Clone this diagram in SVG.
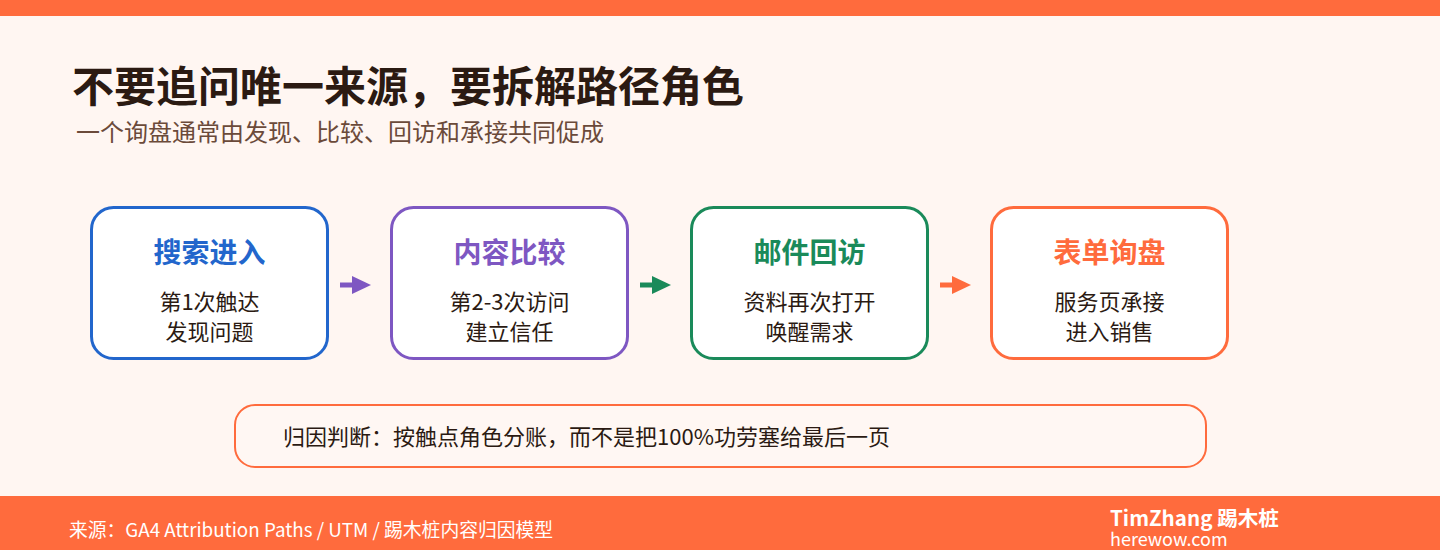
<svg xmlns="http://www.w3.org/2000/svg" width="1440" height="550" viewBox="0 0 1440 550">
<style>
text{font-family:"Noto Sans CJK SC","Noto Sans",sans-serif}
.box{fill:#FFFFFF;stroke-width:3}
.bt{font-size:28px;font-weight:700;text-anchor:middle}
.bl{font-size:22px;fill:#2B1A12;text-anchor:middle}
.arr{stroke-width:5}
</style>
<rect x="0" y="0" width="1440" height="550" fill="#FFF6F2"/>
<rect x="0" y="0" width="1440" height="16" fill="#FF6B3D"/>
<text x="72" y="102" font-size="42" font-weight="700" fill="#2B1A12">不要追问唯一来源，要拆解路径角色</text>
<text x="76" y="141" font-size="24" fill="#6B4A3A">一个询盘通常由发现、比较、回访和承接共同促成</text>
<g id="connectors">
<g id="c1"><line x1="340" y1="285" x2="356" y2="285" stroke="#7E57C2" class="arr"/><path d="M352,276 L371,285 L352,294 Z" fill="#7E57C2"/></g>
<g id="c2"><line x1="640" y1="285" x2="656" y2="285" stroke="#1A8A5A" class="arr"/><path d="M652,276 L671,285 L652,294 Z" fill="#1A8A5A"/></g>
<g id="c3"><line x1="940" y1="285" x2="956" y2="285" stroke="#FF6B3D" class="arr"/><path d="M952,276 L971,285 L952,294 Z" fill="#FF6B3D"/></g>
</g>
<g id="n1">
<rect x="91.5" y="207.5" width="236" height="151" rx="22" class="box" stroke="#2266CC"/>
<text x="209.5" y="263" class="bt" fill="#2266CC">搜索进入</text>
<text x="209.5" y="310" class="bl">第1次触达</text>
<text x="209.5" y="340" class="bl">发现问题</text>
</g>
<g id="n2">
<rect x="391.5" y="207.5" width="236" height="151" rx="22" class="box" stroke="#7E57C2"/>
<text x="509.5" y="263" class="bt" fill="#7E57C2">内容比较</text>
<text x="509.5" y="310" class="bl">第2-3次访问</text>
<text x="509.5" y="340" class="bl">建立信任</text>
</g>
<g id="n3">
<rect x="691.5" y="207.5" width="236" height="151" rx="22" class="box" stroke="#1A8A5A"/>
<text x="809.5" y="263" class="bt" fill="#1A8A5A">邮件回访</text>
<text x="809.5" y="310" class="bl">资料再次打开</text>
<text x="809.5" y="340" class="bl">唤醒需求</text>
</g>
<g id="n4">
<rect x="991.5" y="207.5" width="236" height="151" rx="22" class="box" stroke="#FF6B3D"/>
<text x="1109.5" y="263" class="bt" fill="#FF6B3D">表单询盘</text>
<text x="1109.5" y="310" class="bl">服务页承接</text>
<text x="1109.5" y="340" class="bl">进入销售</text>
</g>
<g id="note">
<rect x="235" y="405" width="971" height="62" rx="20" fill="#FFF7F3" stroke="#FF6B3D" stroke-width="2"/>
<text x="283" y="445" font-size="22" fill="#2B1A12">归因判断：按触点角色分账，而不是把100%功劳塞给最后一页</text>
</g>
<rect x="0" y="496" width="1440" height="54" fill="#FF6B3D"/>
<text x="69" y="537" font-size="18.8" fill="#FFFFFF">来源：GA4 Attribution Paths / UTM / 踢木桩内容归因模型</text>
<text x="1110" y="526" font-size="20.6" font-weight="700" fill="#FFFFFF">TimZhang 踢木桩</text>
<text x="1110" y="546" font-size="18" fill="#FFFFFF">herewow.com</text>
</svg>
